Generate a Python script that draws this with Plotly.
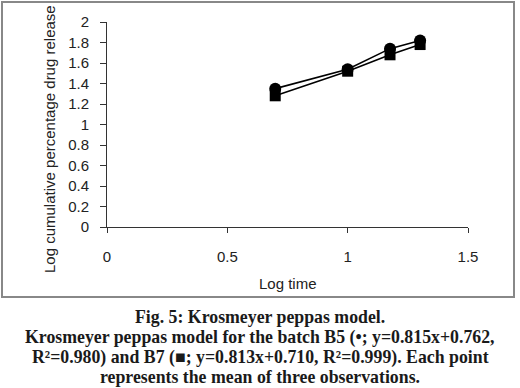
import plotly.graph_objects as go

log_time = [0.699, 1.0, 1.176, 1.301]
b5 = [1.35, 1.54, 1.74, 1.82]
b7 = [1.28, 1.52, 1.68, 1.78]
x_ticks = [0, 0.5, 1, 1.5]
x_tick_labels = ["0", "0.5", "1", "1.5"]
y_ticks = [0, 0.2, 0.4, 0.6, 0.8, 1, 1.2, 1.4, 1.6, 1.8, 2]
y_tick_labels = ["0", "0.2", "0.4", "0.6", "0.8", "1", "1.2", "1.4", "1.6", "1.8", "2"]
caption = [
    "Fig. 5: Krosmeyer peppas model.",
    "Krosmeyer peppas model for the batch B5 (\u2022; y=0.815x+0.762,",
    "R\u00b2=0.980) and B7 (\u25a0; y=0.813x+0.710, R\u00b2=0.999). Each point",
    "represents the mean of three observations.",
]

W, H = 520, 388
L, R, T, B = 107, 468, 22, 227

def px(x):
    return (x - L) / (R - L)

def py(y):
    return (B - y) / (B - T)

fig = go.Figure()
fig.add_trace(go.Scatter(x=log_time, y=b7, mode="lines+markers",
                         line=dict(color="black", width=1.6),
                         marker=dict(symbol="square", size=11, color="black"),
                         showlegend=False))
fig.add_trace(go.Scatter(x=log_time, y=b5, mode="lines+markers",
                         line=dict(color="black", width=1.6),
                         marker=dict(symbol="circle", size=12, color="black"),
                         showlegend=False))

axis_font = dict(family="Liberation Sans, Arial, sans-serif", size=15, color="#222")
fig.update_layout(
    width=W, height=H,
    margin=dict(l=L, r=W - R, t=T, b=H - B, pad=0),
    plot_bgcolor="white", paper_bgcolor="white",
    xaxis=dict(range=[0, 1.5], tickvals=x_ticks, ticktext=x_tick_labels,
               showgrid=False, zeroline=False, showline=True, linecolor="#333",
               linewidth=1, ticks="outside", ticklen=5, tickcolor="#333",
               tickfont=axis_font, ticklabelstandoff=11),
    yaxis=dict(range=[0, 2], tickvals=y_ticks, ticktext=y_tick_labels,
               showgrid=False, zeroline=False, showline=True, linecolor="#333",
               linewidth=1, ticks="outside", ticklen=6, tickcolor="#333",
               tickfont=axis_font, ticklabelstandoff=8),
)

# outer frame
fig.add_shape(type="rect", xref="paper", yref="paper",
              x0=px(2), x1=px(514), y0=py(2), y1=py(297),
              line=dict(color="#888", width=2), fillcolor="rgba(0,0,0,0)")

title_font = dict(family="Liberation Sans, Arial, sans-serif", size=15, color="#222")
fig.add_annotation(text="Log time", xref="paper", yref="paper",
                   x=px(288), y=py(283), showarrow=False, font=title_font,
                   xanchor="center", yanchor="middle")
fig.add_annotation(text="Log cumulative percentage drug release", xref="paper", yref="paper",
                   x=px(49), y=py(139), showarrow=False, font=title_font, textangle=-90,
                   xanchor="center", yanchor="middle")

cap_font = dict(family="Liberation Serif, serif", size=17.8, color="#1a1a1a", weight="bold")
for i, line in enumerate(caption):
    fig.add_annotation(text=line, xref="paper", yref="paper",
                       x=px(260), y=py(317 + 20 * i), showarrow=False, font=cap_font,
                       xanchor="center", yanchor="middle")

fig.write_html("out.html", config={"displayModeBar": False},
               post_script="document.body.style.margin='0';")
